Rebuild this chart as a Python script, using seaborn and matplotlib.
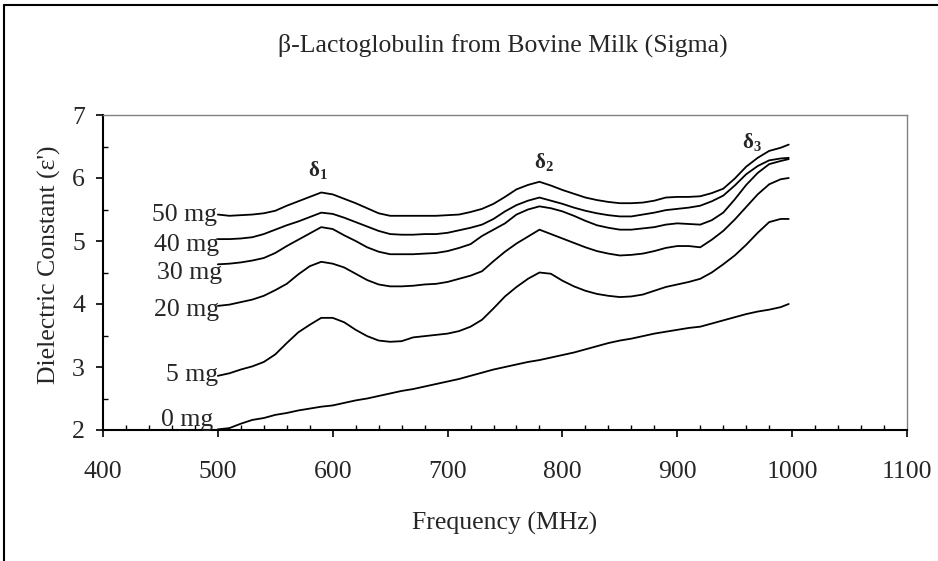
import matplotlib
matplotlib.use("Agg")
import matplotlib.pyplot as plt
from matplotlib.ticker import MultipleLocator
from matplotlib.lines import Line2D
import seaborn as sns
import pandas as pd

freq = [500, 510, 520, 530, 540, 550, 560, 570, 580, 590,
        600, 610, 620, 630, 640, 650, 660, 670, 680, 690,
        700, 710, 720, 730, 740, 750, 760, 770, 780, 790,
        800, 810, 820, 830, 840, 850, 860, 870, 880, 890,
        900, 910, 920, 930, 940, 950, 960, 970, 980, 990, 997]

mg50 = [5.42, 5.40, 5.41, 5.42, 5.44, 5.48, 5.56, 5.63, 5.70, 5.77,
        5.74, 5.67, 5.60, 5.52, 5.44, 5.40, 5.40, 5.40, 5.40, 5.40,
        5.41, 5.42, 5.46, 5.51, 5.59, 5.70, 5.82, 5.89, 5.94, 5.88,
        5.81, 5.75, 5.69, 5.65, 5.62, 5.60, 5.60, 5.61, 5.64, 5.69,
        5.70, 5.70, 5.71, 5.76, 5.83, 5.99, 6.18, 6.32, 6.43, 6.48, 6.53]
mg40 = [5.03, 5.03, 5.04, 5.06, 5.11, 5.18, 5.25, 5.31, 5.38, 5.45,
        5.43, 5.37, 5.30, 5.23, 5.16, 5.11, 5.10, 5.10, 5.11, 5.11,
        5.13, 5.17, 5.21, 5.26, 5.35, 5.47, 5.57, 5.64, 5.69, 5.64,
        5.59, 5.53, 5.48, 5.44, 5.41, 5.39, 5.39, 5.42, 5.45, 5.49,
        5.51, 5.53, 5.56, 5.63, 5.72, 5.88, 6.06, 6.19, 6.28, 6.31, 6.32]
mg30 = [4.63, 4.64, 4.66, 4.69, 4.73, 4.81, 4.92, 5.02, 5.12, 5.22,
        5.19, 5.09, 5.00, 4.90, 4.83, 4.79, 4.79, 4.79, 4.80, 4.81,
        4.84, 4.89, 4.95, 5.08, 5.18, 5.28, 5.42, 5.50, 5.55, 5.52,
        5.47, 5.40, 5.32, 5.25, 5.21, 5.18, 5.18, 5.20, 5.22, 5.26,
        5.28, 5.27, 5.26, 5.33, 5.45, 5.66, 5.89, 6.08, 6.22, 6.27, 6.30]
mg20 = [3.97, 3.99, 4.03, 4.07, 4.13, 4.22, 4.32, 4.47, 4.60, 4.67,
        4.64, 4.58, 4.48, 4.38, 4.31, 4.28, 4.28, 4.29, 4.31, 4.32,
        4.35, 4.40, 4.45, 4.52, 4.68, 4.83, 4.96, 5.07, 5.18, 5.11,
        5.04, 4.97, 4.90, 4.84, 4.80, 4.77, 4.78, 4.80, 4.84, 4.89,
        4.92, 4.92, 4.90, 5.02, 5.16, 5.34, 5.54, 5.74, 5.90, 5.98, 6.00]
mg5 = [2.86, 2.90, 2.96, 3.01, 3.08, 3.20, 3.38, 3.55, 3.67, 3.78,
       3.78, 3.71, 3.59, 3.49, 3.42, 3.40, 3.41, 3.47, 3.49, 3.51,
       3.53, 3.57, 3.64, 3.75, 3.93, 4.12, 4.27, 4.40, 4.50, 4.48,
       4.37, 4.28, 4.21, 4.16, 4.13, 4.11, 4.12, 4.15, 4.21, 4.27,
       4.31, 4.35, 4.40, 4.50, 4.63, 4.77, 4.94, 5.13, 5.30, 5.35, 5.35]
mg0 = [2.01, 2.03, 2.10, 2.16, 2.19, 2.24, 2.27, 2.31, 2.34, 2.37,
       2.39, 2.43, 2.47, 2.50, 2.54, 2.58, 2.62, 2.65, 2.69, 2.73,
       2.77, 2.81, 2.86, 2.91, 2.96, 3.00, 3.04, 3.08, 3.11, 3.15,
       3.19, 3.23, 3.28, 3.33, 3.38, 3.42, 3.45, 3.49, 3.53, 3.56,
       3.59, 3.62, 3.64, 3.69, 3.74, 3.79, 3.84, 3.88, 3.91, 3.95, 4.00]

series_names = ["50 mg", "40 mg", "30 mg", "20 mg", "5 mg", "0 mg"]
label_x = [499, 501, 504, 501, 500, 496]
label_y = [5.41, 4.94, 4.49, 3.90, 2.87, 2.16]
peak_names = [r"$\mathbf{\delta_1}$", r"$\mathbf{\delta_2}$", r"$\mathbf{\delta_3}$"]
peak_x = [587, 784, 965]
peak_y = [6.13, 6.26, 6.57]

series_values = [mg50, mg40, mg30, mg20, mg5, mg0]
rows = []
for name, vals in zip(series_names, series_values):
    for f, v in zip(freq, vals):
        rows.append({"Frequency": f, "Value": v, "Sample": name})
df = pd.DataFrame(rows)

sns.set_style("white")
plt.rcParams["font.family"] = ["Liberation Serif", "DejaVu Serif"]
plt.rcParams["mathtext.fontset"] = "custom"
plt.rcParams["mathtext.rm"] = "Liberation Serif"
plt.rcParams["mathtext.it"] = "Liberation Serif:italic"
plt.rcParams["mathtext.bf"] = "Liberation Serif:bold"

FS = 18.5
fig = plt.figure(figsize=(9.38, 5.61), dpi=100)
ax = fig.add_axes([103 / 938, 1 - 430 / 561, (907 - 103) / 938, (430 - 115) / 561])

sns.lineplot(data=df, x="Frequency", y="Value", units="Sample", estimator=None,
             color="black", linewidth=1.3, ax=ax, legend=False)

ax.set_xlim(400, 1100)
ax.set_ylim(2, 7)
ax.xaxis.set_major_locator(MultipleLocator(100))
ax.xaxis.set_minor_locator(MultipleLocator(20))
ax.yaxis.set_major_locator(MultipleLocator(1))
ax.yaxis.set_minor_locator(MultipleLocator(0.5))
ax.tick_params(axis="both", which="major", direction="out", length=5, width=1.2,
               labelsize=FS, color="black", bottom=True, left=True)
ax.tick_params(axis="both", which="minor", direction="in", length=3.6, width=1.0,
               color="black", bottom=True, left=True)
ax.tick_params(axis="x", which="major", pad=17)
ax.tick_params(axis="y", which="major", pad=8)

for side in ["left", "bottom"]:
    ax.spines[side].set_color("black")
    ax.spines[side].set_linewidth(1.5)
for side in ["top", "right"]:
    ax.spines[side].set_color("#808080")
    ax.spines[side].set_linewidth(1.0)

ax.set_xlabel("Frequency (MHz)", fontsize=FS)
ax.xaxis.set_label_coords(0.5, (430 - 512) / 315)
ax.set_ylabel("Dielectric Constant (ε')", fontsize=FS)
ax.yaxis.set_label_coords((61 - 103) / 804, (430 - 265) / 315)

for name, x, y in zip(series_names, label_x, label_y):
    ax.text(x, y, name, ha="right", va="center", fontsize=FS)
for name, x, y in zip(peak_names, peak_x, peak_y):
    ax.text(x, y, name, ha="center", va="center", fontsize=15)

fig.text(503 / 938, 1 - 52 / 561, "β-Lactoglobulin from Bovine Milk (Sigma)",
         ha="center", va="baseline", fontsize=FS)

fig.add_artist(Line2D([4 / 938, 1.0], [1 - 5 / 561, 1 - 5 / 561], color="black", linewidth=1.5,
                      transform=fig.transFigure))
fig.add_artist(Line2D([4 / 938, 4 / 938], [0.0, 1 - 5 / 561], color="black", linewidth=1.5,
                      transform=fig.transFigure))

fig.savefig("out.png", dpi=100)
